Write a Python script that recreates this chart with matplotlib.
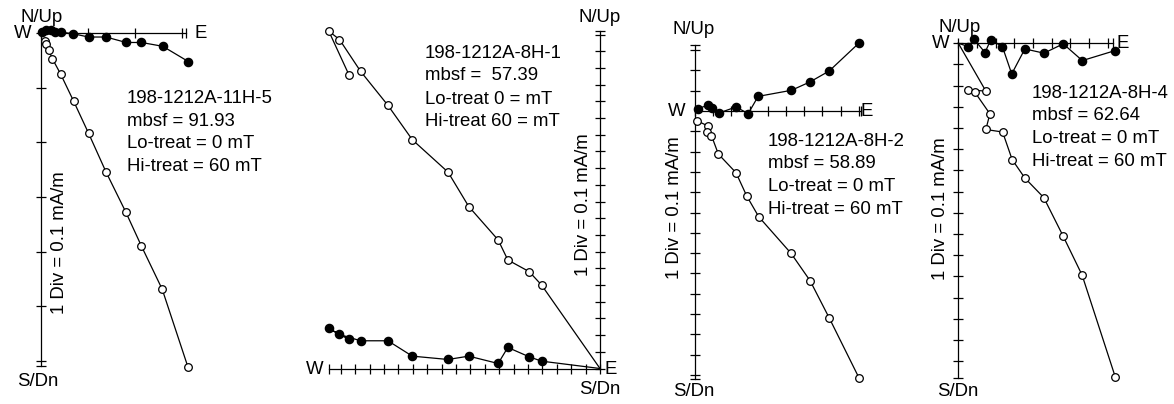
import matplotlib
matplotlib.use("Agg")
import matplotlib.pyplot as plt
import numpy as np

plt.rcParams["font.family"] = ["Liberation Sans", "DejaVu Sans"]

# Zijderveld diagrams, values in divisions (1 Div = 0.1 mA/m)
# filled = horizontal projection (E, N), open = vertical projection (E, Up)

# 198-1212A-11H-5
e_11h5_hor = [0.01, 0.10, 0.18, 0.26, 0.36, 0.59, 0.87, 1.19, 1.56, 1.84, 2.23, 2.70]
n_11h5 = [0.03, 0.05, 0.05, 0.03, 0.02, -0.01, -0.07, -0.07, -0.17, -0.17, -0.24, -0.52]
e_11h5_ver = [0.07, 0.10, 0.14, 0.21, 0.36, 0.60, 0.87, 1.19, 1.55, 1.84, 2.22, 2.69]
u_11h5 = [-0.15, -0.19, -0.31, -0.47, -0.75, -1.25, -1.83, -2.54, -3.27, -3.90, -4.69, -6.11]

# 198-1212A-8H-1 (ends at the origin)
e_8h1 = [-15.04, -16.24, -15.60, -14.34, -12.70, -11.24, -9.10, -7.86, -6.10, -5.52, -4.24, -3.50, 0.0]
n_8h1 = [1.74, 2.40, 2.04, 1.66, 1.66, 0.74, 0.54, 0.74, 0.30, 1.26, 0.70, 0.44, 0.0]
u_8h1 = [17.60, 20.20, 19.70, 17.80, 15.76, 13.70, 11.76, 9.70, 7.70, 6.50, 5.80, 5.00, 0.0]

# 198-1212A-8H-2
e_8h2_hor = [0.13, 0.62, 0.85, 1.18, 2.02, 2.62, 3.11, 4.75, 5.66, 6.61, 8.07]
n_8h2 = [0.11, 0.28, 0.16, -0.10, 0.20, -0.13, 0.72, 1.02, 1.43, 1.97, 3.34]
e_8h2_ver = [0.12, 0.64, 0.59, 0.81, 1.15, 2.02, 2.55, 3.14, 4.73, 5.67, 6.62, 8.09]
u_8h2 = [-0.49, -0.74, -1.03, -1.21, -2.12, -3.04, -4.19, -5.21, -7.01, -8.36, -10.21, -13.17]

# 198-1212A-8H-4 (starts at the origin)
e_8h4_hor = [0.0, 0.47, 0.74, 1.26, 1.53, 2.08, 2.52, 3.14, 4.04, 4.95, 5.85, 7.39]
n_8h4 = [0.0, -0.16, 0.19, -0.44, 0.16, -0.16, -1.45, -0.27, -0.47, -0.03, -0.82, -0.35]
e_8h4_ver = [0.0, 1.30, 0.47, 0.78, 1.49, 1.30, 2.09, 2.54, 3.14, 4.03, 4.95, 5.84, 7.41]
u_8h4 = [0.0, -2.26, -2.20, -2.31, -3.33, -4.07, -4.19, -5.49, -6.36, -7.28, -9.11, -10.94, -15.76]

info_11h5 = ["198-1212A-11H-5", "mbsf = 91.93", "Lo-treat = 0 mT", "Hi-treat = 60 mT"]
info_8h1 = ["198-1212A-8H-1", "mbsf =  57.39", "Lo-treat 0 = mT", "Hi-treat 60 = mT"]
info_8h2 = ["198-1212A-8H-2", "mbsf = 58.89", "Lo-treat = 0 mT", "Hi-treat = 60 mT"]
info_8h4 = ["198-1212A-8H-4", "mbsf = 62.64", "Lo-treat = 0 mT", "Hi-treat = 60 mT"]

W, H = 1174, 404
LW = 0.9
TICK = 6.5
FS = 13.4

fig = plt.figure(figsize=(W / 100, H / 100), dpi=100)


def fxy(px, py):
    return px / W, 1 - py / H


def draw_panel(hor_e, hor_n, ver_e, ver_u, info, lay, hor_marks=None, ver_marks=None):
    ox, oy = lay["origin"]
    s = lay["scale"]
    ax = fig.add_axes([0, 0, 1, 1])
    ax.set_xlim(-ox / s, (W - ox) / s)
    ax.set_ylim((oy - H) / s, oy / s)
    ax.set_axis_off()
    ax.patch.set_alpha(0)

    # W-E and N/Up-S/Dn axes with division ticks
    h0, h1 = lay["h_range"]
    v0, v1 = lay["v_range"]
    ax.plot([h0, h1], [0, 0], color="k", lw=LW)
    ax.plot([0, 0], [v0, v1], color="k", lw=LW)
    k = np.arange(1, 40)
    ht = np.concatenate([k * lay["hstep"], -k * lay["hstep"]])
    ht = np.append(ht[(ht > h0) & (ht < h1)], [h0, h1])
    vt = np.concatenate([k, -k]).astype(float)
    vt = np.append(vt[(vt > v0) & (vt < v1)], [v0, v1])
    ax.plot(ht, np.zeros_like(ht), ls="none", marker="|", ms=TICK, mew=LW, color="k")
    ax.plot(np.zeros_like(vt), vt, ls="none", marker="_", ms=TICK, mew=LW, color="k")

    ax.plot(hor_e, hor_n, color="k", lw=LW, marker="o", ms=5.9, mfc="k", mec="k",
            markevery=hor_marks, clip_on=False)
    ax.plot(ver_e, ver_u, color="k", lw=LW, marker="o", ms=5.5, mfc="white", mec="k",
            mew=0.9, markevery=ver_marks, clip_on=False)

    kw = dict(fontsize=FS, va="baseline")
    fig.text(*fxy(*lay["nup"]), "N/Up", ha="center", **kw)
    fig.text(*fxy(*lay["sdn"]), "S/Dn", ha="center", **kw)
    fig.text(*fxy(*lay["w"]), "W", ha="right", **kw)
    fig.text(*fxy(*lay["e"]), "E", ha="left", **kw)
    fig.text(*fxy(*lay["div"]), "1 Div = 0.1 mA/m", fontsize=FS, rotation=90,
             ha="center", va="center")
    tx, ty = lay["info"]
    for i, line in enumerate(info):
        fig.text(*fxy(tx, ty + i * lay["info_gap"]), line, ha="left", **kw)


lay_11h5 = dict(origin=(41, 33.2), scale=54.6, hstep=0.86, h_range=(0, 2.65), v_range=(-6.1, 0),
                nup=(41.5, 22), sdn=(38, 386.5), w=(32, 38.5), e=(194, 38.5),
                div=(60, 243), info=(127, 103), info_gap=22.7)
lay_8h1 = dict(origin=(600, 368.5), scale=16.7, hstep=0.862, h_range=(-16.2, 0), v_range=(0, 20.2),
               nup=(600, 22), sdn=(600, 393.5), w=(324, 374), e=(604, 374),
               div=(584, 205), info=(425, 57.5), info_gap=23)
lay_8h2 = dict(origin=(695, 111), scale=20.3, hstep=0.896, h_range=(0, 8.16), v_range=(-13.22, 3.25),
               nup=(694, 34), sdn=(694, 396.5), w=(685.5, 116.5), e=(861, 116.5),
               div=(675, 208), info=(768, 145.5), info_gap=22.7)
lay_8h4 = dict(origin=(958.3, 43.2), scale=21.2, hstep=0.882, h_range=(0, 7.3), v_range=(-15.78, 0),
               nup=(960, 32.5), sdn=(958, 396.5), w=(950, 48), e=(1116, 48),
               div=(940.5, 208.5), info=(1032, 98), info_gap=22.5)

draw_panel(e_11h5_hor, n_11h5, e_11h5_ver, u_11h5, info_11h5, lay_11h5)
draw_panel(e_8h1, n_8h1, e_8h1, u_8h1, info_8h1, lay_8h1,
           hor_marks=list(range(len(e_8h1) - 1)), ver_marks=list(range(len(e_8h1) - 1)))
draw_panel(e_8h2_hor, n_8h2, e_8h2_ver, u_8h2, info_8h2, lay_8h2)
draw_panel(e_8h4_hor, n_8h4, e_8h4_ver, u_8h4, info_8h4, lay_8h4,
           hor_marks=list(range(1, len(e_8h4_hor))), ver_marks=list(range(1, len(e_8h4_ver))))

fig.savefig("out.png", dpi=100)
